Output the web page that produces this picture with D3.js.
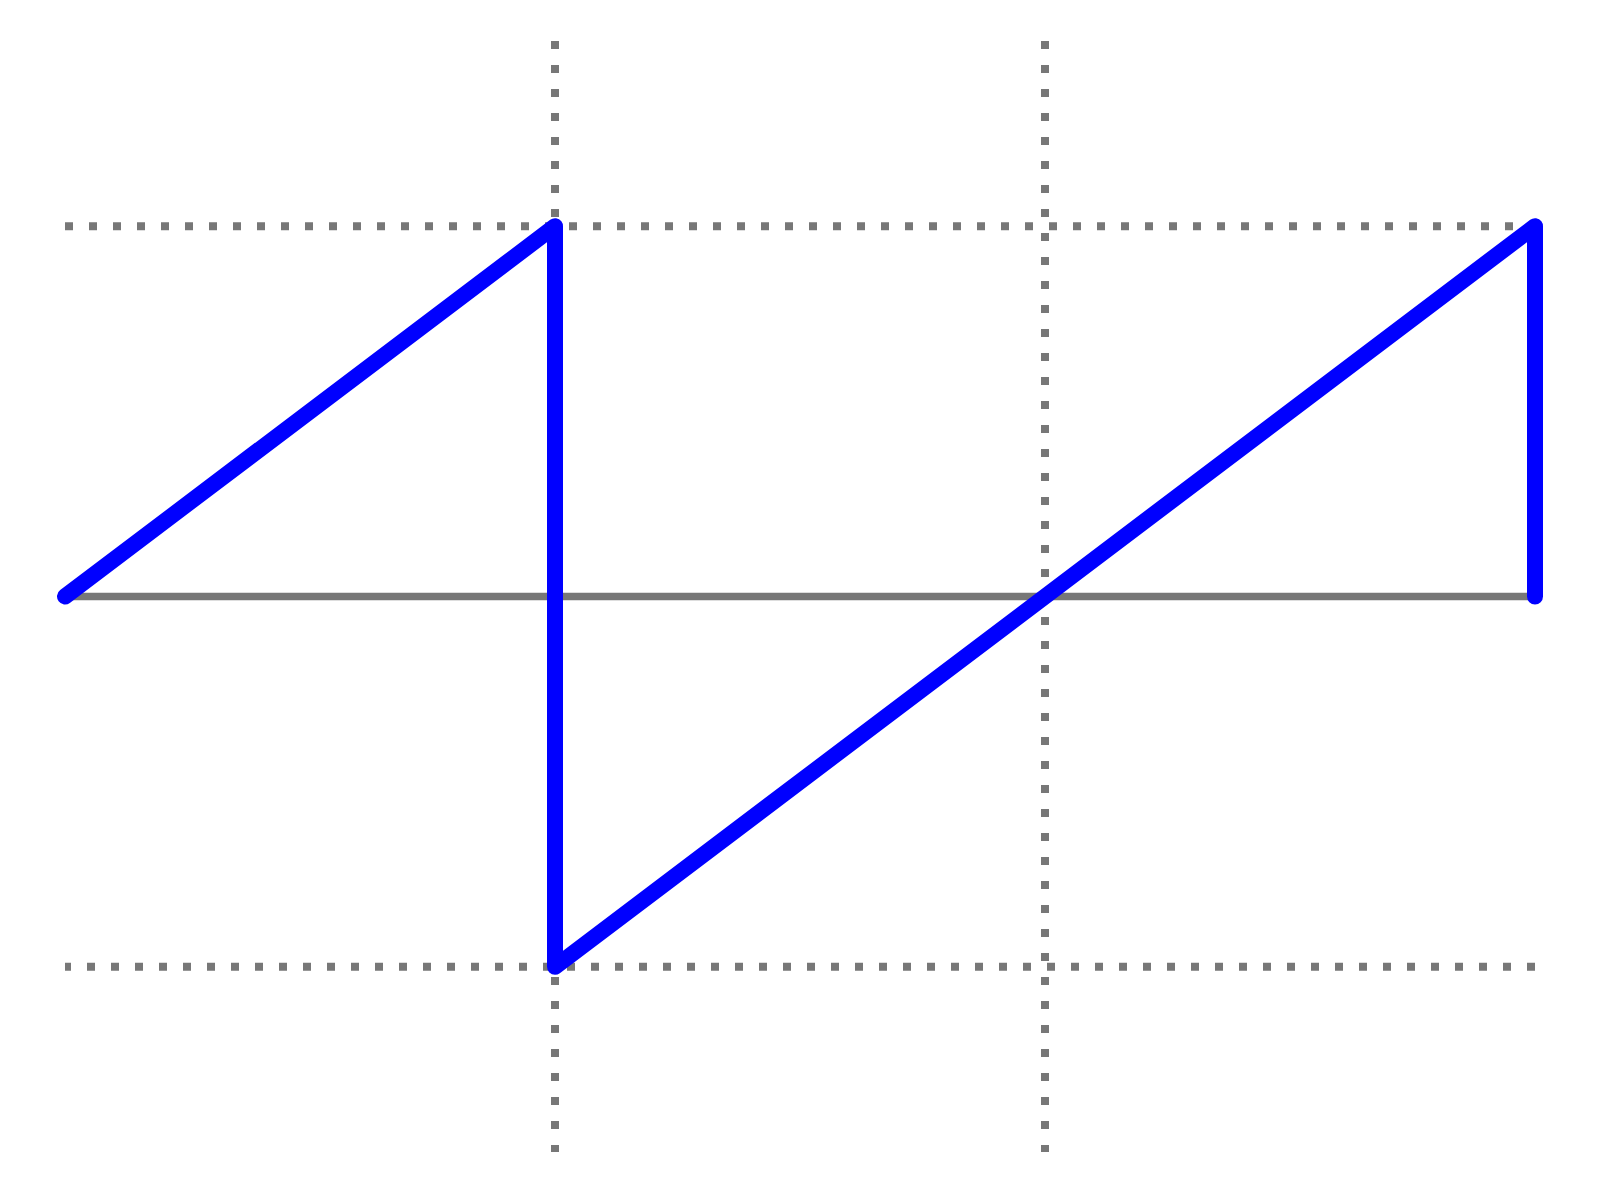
<!DOCTYPE html>
<html>
<head>
<meta charset="utf-8">
<script src="https://cdn.jsdelivr.net/npm/d3@7"></script>
<style>
  html, body { margin: 0; padding: 0; background: #fff; }
  svg { display: block; }
</style>
</head>
<body>
<script>
// Data
const xValues = [0, 1, 1, 3, 3];
const yValues = [0, 1, -1, 1, 0];
const xGridTicks = [1, 2];
const yGridTicks = [1, -1];
const xDomain = [0, 3];
const yDomain = [-1.5, 1.5];

const W = 1600, H = 1200;
const svg = d3.select("body").append("svg").attr("width", W).attr("height", H);

const x = d3.scaleLinear().domain(xDomain).range([65, 1535]);
const y = d3.scaleLinear().domain(yDomain).range([1152, 41]);

const gridColor = "#777777";

// Horizontal dotted grid lines (y=1 drawn left->right, y=-1 right->left)
yGridTicks.forEach(t => {
  const xs = t > 0 ? [xDomain[0], xDomain[1]] : [xDomain[1], xDomain[0]];
  svg.append("path")
    .attr("d", d3.line()([[x(xs[0]), y(t)], [x(xs[1]), y(t)]]))
    .attr("stroke", gridColor)
    .attr("stroke-width", 8)
    .attr("stroke-dasharray", "8 16")
    .attr("fill", "none");
});

// Vertical dotted grid lines (top -> bottom)
xGridTicks.forEach(t => {
  svg.append("path")
    .attr("d", d3.line()([[x(t), y(yDomain[1])], [x(t), y(yDomain[0])]]))
    .attr("stroke", gridColor)
    .attr("stroke-width", 8)
    .attr("stroke-dasharray", "8 16")
    .attr("fill", "none");
});

// Zero baseline
svg.append("path")
  .attr("d", d3.line()([[x(xDomain[0]), y(0)], [x(xDomain[1]), y(0)]]))
  .attr("stroke", gridColor)
  .attr("stroke-width", 7.5)
  .attr("fill", "none");

// Blue series
const pts = xValues.map((v, i) => [v, yValues[i]]);
svg.append("path")
  .datum(pts)
  .attr("d", d3.line().x(d => x(d[0])).y(d => y(d[1])))
  .attr("stroke", "#0000ff")
  .attr("stroke-width", 16)
  .attr("stroke-linecap", "round")
  .attr("stroke-linejoin", "round")
  .attr("fill", "none");
</script>
</body>
</html>
